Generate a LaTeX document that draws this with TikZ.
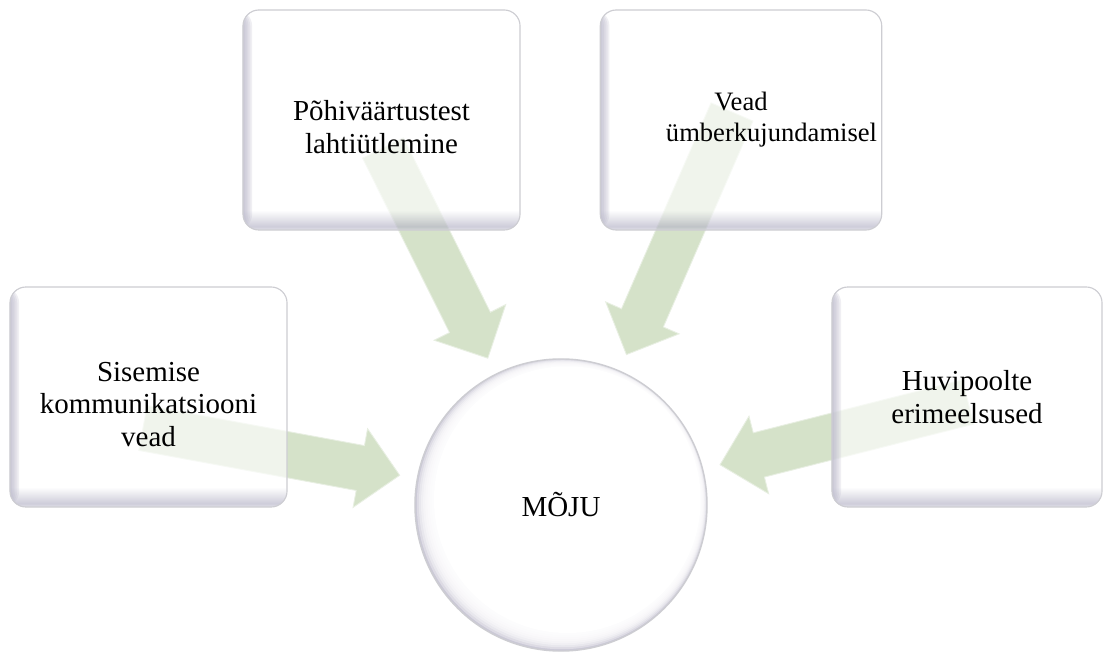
\documentclass[tikz,border=0pt]{standalone}
\usepackage{fontspec}
\setmainfont{Liberation Serif}
\usetikzlibrary{calc}
\definecolor{arrowgreen}{RGB}{213,226,201}
\definecolor{arrowedge}{RGB}{232,239,226}
\definecolor{shadowgray}{RGB}{180,178,198}
\definecolor{rimgray}{RGB}{205,205,210}
\pgfdeclareverticalshading{boxshade}{100bp}{color(0bp)=(shadowgray!55); color(25bp)=(shadowgray!55); color(25.8bp)=(shadowgray); color(29.5bp)=(white); color(100bp)=(white)}
\pgfdeclarelayer{background}
\pgfsetlayers{background,main}
\newcommand\flowarrow[2]{%
  \coordinate (hb) at ($(#2)!1cm!(#1)$);
  \fill[flow] ($(#1)!0.57cm!90:(#2)$) -- ($(hb)!0.57cm!90:(#2)$) -- ($(hb)!1cm!90:(#2)$)
    -- (#2) -- ($(hb)!1cm!-90:(#2)$) -- ($(hb)!0.57cm!-90:(#2)$) -- ($(#1)!0.57cm!-90:(#2)$) -- cycle;}
\begin{document}
\begin{tikzpicture}[x=0.025cm, y=0.025cm,
  factor/.style={draw=rimgray, line width=0.8pt, rounded corners=0.4cm, shading=boxshade,
    fill opacity=0.65, text opacity=1, minimum width=6.925cm, minimum height=5.5cm,
    align=center, font=\fontsize{20.6}{23.2}\selectfont,
    path picture={\foreach \i in {1,...,5}{\fill[shadowgray, fill opacity=0.2]
      (path picture bounding box.south west) rectangle ([xshift=\i*1.3pt]path picture bounding box.north west);}}},
  impact/.style={circle, draw=rimgray, line width=1pt, fill=shadowgray!70, minimum size=7.3cm, inner sep=0pt,
    font=\fontsize{20.6}{23.2}\selectfont,
    path picture={\foreach \k in {0,...,7}{\fill[white, fill opacity=0.35]
      ([shift={(\k*0.5pt+0.5pt,\k*0.4pt+0.5pt)}]path picture bounding box.center) circle ({3.65cm-0.8pt-\k*1pt});}
      \fill[white] ([shift={(4.5pt,3.8pt)}]path picture bounding box.center) circle ({3.65cm-9pt});}},
  flow/.style={fill=arrowgreen, draw=arrowedge, line width=0.6pt}]
\useasboundingbox (0,0) rectangle (1105,652);

\node[factor] (sis) at (148.5,255) {\rule{0pt}{0.85cm}Sisemise\\kommunikatsiooni\\vead};
\node[factor] (pohi) at (381.5,532) {\rule{0pt}{0.85cm}Põhiväärtustest\\lahtiütlemine};
\node[factor, font=\fontsize{18.9}{22}\selectfont] (vead) at (741,532) {Vead\\\hspace*{1.525cm}ümberkujundamisel};
\node[factor, minimum width=6.75cm] (huvi) at (967,255) {Huvipoolte\\erimeelsused};
\node[impact] (moju) at (561,147) {MÕJU};

\coordinate (t1) at ([shift={(-5.5,-31)}]sis.center);
\coordinate (t2) at ([shift={(1.5,-28)}]pohi.center);
\coordinate (t3) at ([shift={(-9,8)}]vead.center);
\coordinate (t4) at ([shift={(1,-5)}]huvi.center);
\foreach \i in {1,...,4}
  \coordinate (h\i) at ($(moju.center)!4.1cm!(t\i)$);

\begin{pgfonlayer}{background}
  \fill[white] (0,0) rectangle (1105,652);
  \foreach \i in {1,...,4}
    \flowarrow{t\i}{h\i};
\end{pgfonlayer}
\end{tikzpicture}
\end{document}
